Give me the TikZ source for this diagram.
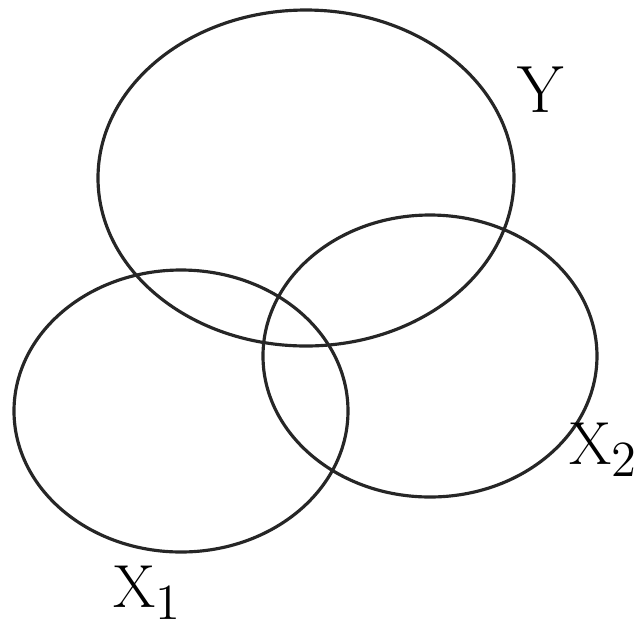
\documentclass[tikz,border=0pt]{standalone}
\begin{document}
\begin{tikzpicture}[x=0.01cm,y=-0.01cm,
  setshape/.style={draw=black!85,line width=0.9pt},
  setlabel/.style={inner sep=0pt,font=\fontsize{19}{20}\selectfont}]
\useasboundingbox (0,0) rectangle (644,623);
\draw[setshape] (306,178) ellipse [x radius=208, y radius=168];
\draw[setshape] (181,411) ellipse [x radius=167, y radius=141];
\draw[setshape] (430,356) ellipse [x radius=167, y radius=141];
\node[setlabel] (y) at (541,90) {Y};
\node[setlabel,anchor=west] (x2) at (569,450) {$\mathrm{X}_2$};
\node[setlabel,anchor=west] (x1) at (113,593) {$\mathrm{X}_1$};
\end{tikzpicture}
\end{document}
